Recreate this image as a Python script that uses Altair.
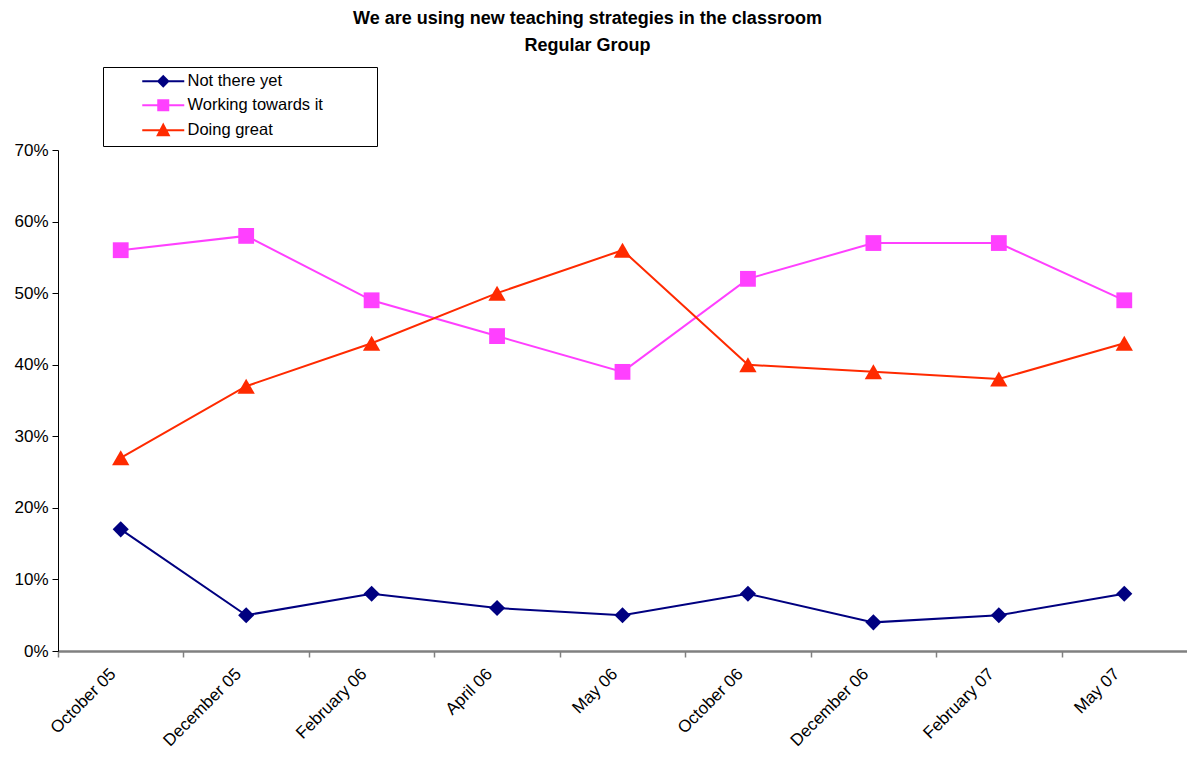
import altair as alt
import pandas as pd

months = ["October 05", "December 05", "February 06", "April 06", "May 06",
          "October 06", "December 06", "February 07", "May 07"]
series_names = ["Not there yet", "Working towards it", "Doing great"]
not_there = [0.17, 0.05, 0.08, 0.06, 0.05, 0.08, 0.04, 0.05, 0.08]
working = [0.56, 0.58, 0.49, 0.44, 0.39, 0.52, 0.57, 0.57, 0.49]
great = [0.27, 0.37, 0.43, 0.50, 0.56, 0.40, 0.39, 0.38, 0.43]
colors = ["#000080", "#FF40FF", "#FF2A00"]
marker_shapes = ["diamond", "square", "triangle-up"]
marker_sizes = [260, 250, 300]

rows = []
for name, vals in zip(series_names, [not_there, working, great]):
    for m, v in zip(months, vals):
        rows.append({"month": m, "series": name, "value": v})
df = pd.DataFrame(rows)

FONT = "Liberation Sans"
W, H = 1129, 501
band = W / len(months)

x_enc = alt.X(
    "month:N", sort=months,
    scale=alt.Scale(type="point", padding=0.5),
    axis=alt.Axis(
        title=None, labelAngle=-45, labelAlign="right", labelBaseline="middle",
        labelFont=FONT, labelFontSize=17, labelColor="#000000",
        labelPadding=14, labelOffset=band / 2 - 8,
        tickOffset=-band / 2, tickSize=6, tickColor="#808080", tickWidth=1.5,
        domainColor="#808080", domainWidth=2.5, grid=False,
    ),
)
y_enc = alt.Y(
    "value:Q",
    scale=alt.Scale(domain=[0, 0.7], nice=False),
    axis=alt.Axis(
        title=None, format=".0%", values=[0, 0.1, 0.2, 0.3, 0.4, 0.5, 0.6, 0.7],
        labelFont=FONT, labelFontSize=17, labelColor="#000000", labelPadding=4,
        tickSize=6, tickColor="#000000", domainColor="#000000", domainWidth=1,
        grid=False,
    ),
)

layers = []
for name, col, shp, sz in zip(series_names, colors, marker_shapes, marker_sizes):
    base = alt.Chart(df).transform_filter(alt.datum.series == name)
    layers.append(base.mark_line(strokeWidth=2, color=col).encode(x=x_enc, y=y_enc))
    layers.append(
        base.mark_point(shape=shp, filled=True, color=col, size=sz, opacity=1)
        .encode(x=x_enc, y=y_enc)
    )

# legend symbols: line segment + marker, as custom paths
legend_paths = [
    "M-4.2,0H4.2M0,-1L1,0L0,1L-1,0Z",
    "M-4.2,0H4.2M-1,-1H1V1H-1Z",
    "M-4.2,0H4.2M0,-1.1L1.1,1L-1.1,1Z",
]
pad_chars = "\u2800" * 4
legend_layer = (
    alt.Chart(df)
    .transform_filter(alt.datum.value < 0)
    .mark_point(filled=True, size=100, opacity=1, fillOpacity=1, strokeOpacity=1)
    .encode(
        x=x_enc, y=y_enc,
        fill=alt.Fill("series:N", scale=alt.Scale(domain=series_names, range=colors),
                      legend=alt.Legend(
            title=None, orient="none", legendX=45, legendY=-83,
            labelFont=FONT, labelFontSize=16.5, labelColor="#000000",
            labelExpr="datum.label + '" + pad_chars + "'",
            labelOffset=16, symbolOffset=46, symbolOpacity=1, symbolStrokeWidth=2,
            symbolSize=100, rowPadding=5, padding=6,
            strokeColor="#000000", fillColor="#FFFFFF", labelLimit=500,
        )),
        stroke=alt.Stroke("series:N", scale=alt.Scale(domain=series_names, range=colors)),
        shape=alt.Shape("series:N", scale=alt.Scale(domain=series_names, range=legend_paths)),
    )
)
layers.append(legend_layer)

chart = alt.layer(*layers).properties(
    width=W, height=H,
    padding={"left": 50, "top": 142, "right": 0, "bottom": 100},
    autosize=alt.AutoSizeParams(type="none"),
    title=alt.TitleParams(
        ["We are using new teaching strategies in the classroom", "Regular Group"],
        font=FONT, fontSize=18, fontWeight="bold", color="#000000",
        anchor="middle", frame="group", lineHeight=27, dx=-35, offset=12,
    ),
).configure(background="#FFFFFF").configure_view(stroke=None)

chart.save("out.html", embed_options={"renderer": "svg", "actions": False})
